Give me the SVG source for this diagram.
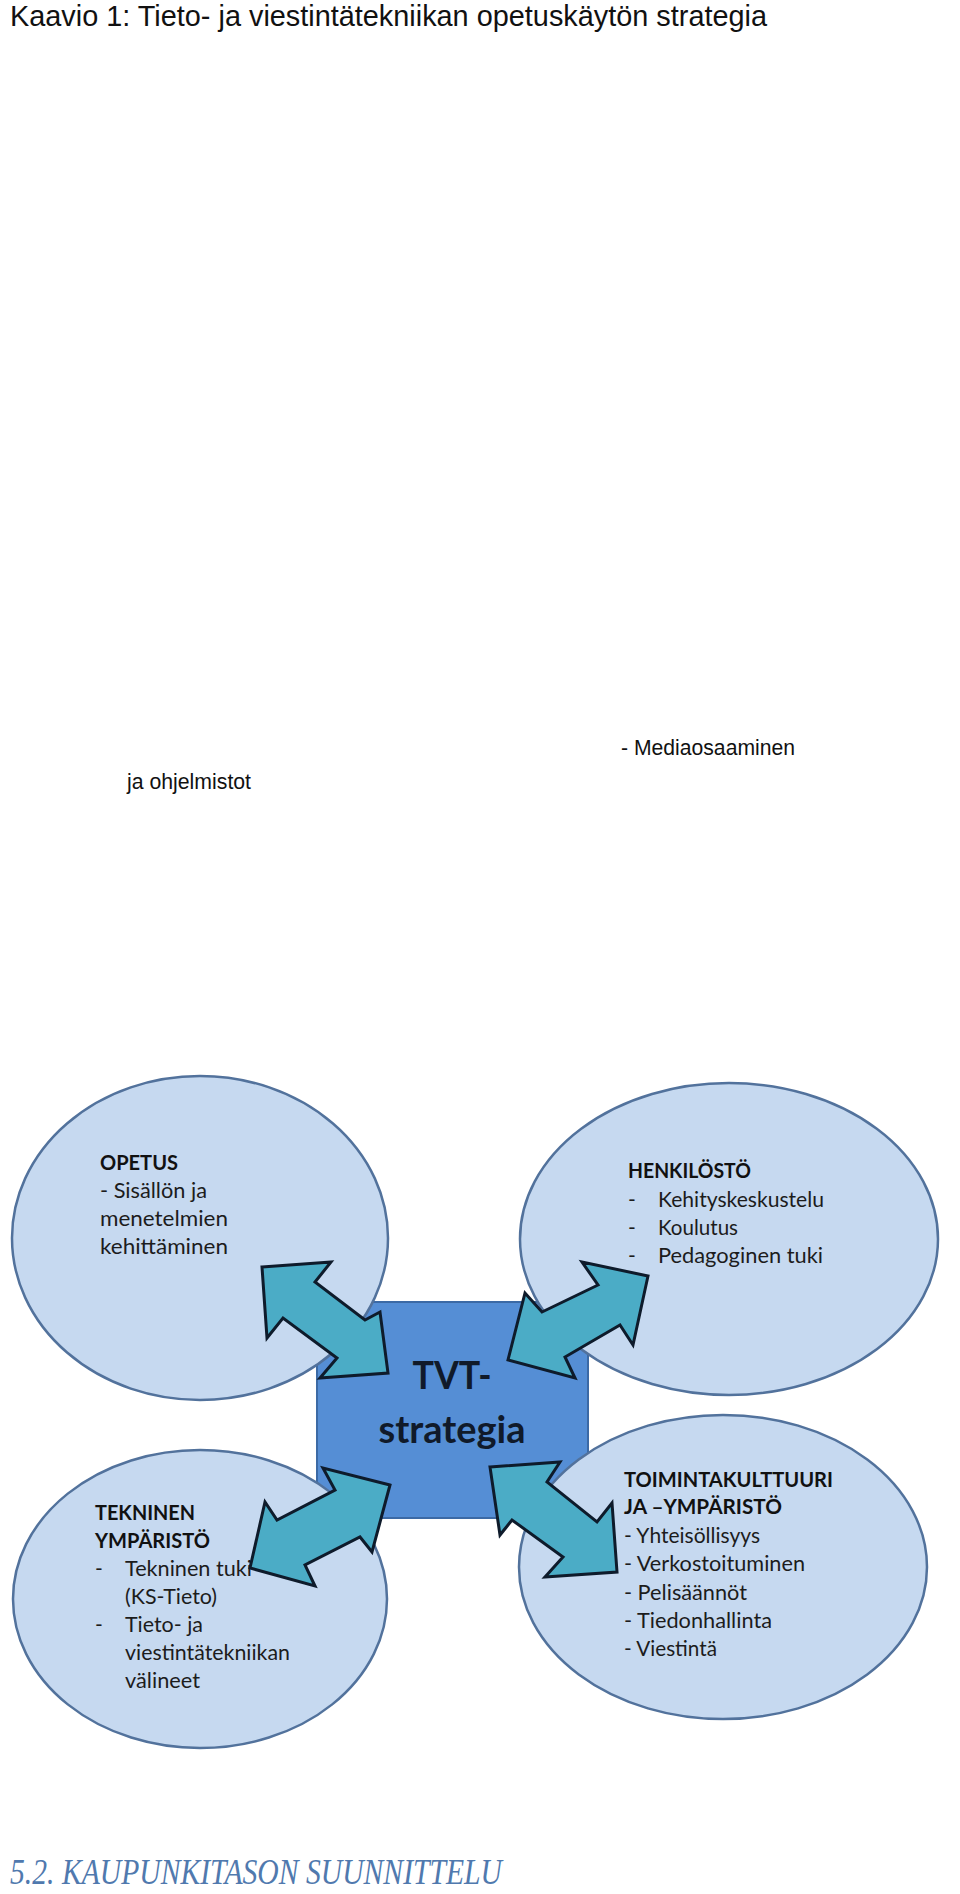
<svg xmlns="http://www.w3.org/2000/svg" width="960" height="1894" viewBox="0 0 960 1894">
<style>
.doc{font-family:"Liberation Sans",Arial,sans-serif;fill:#111;}
.oval{fill:#C6D9F0;stroke:#52729C;stroke-width:2.5;}
.box{fill:#558ED5;stroke:#3C6AA5;stroke-width:2;}
.arr{fill:#4BACC6;stroke:#0E1B2B;stroke-width:3;stroke-linejoin:miter;}
.h{font-family:Lato,"Open Sans",sans-serif;font-weight:bold;font-size:21px;fill:#111;}
.b{font-family:Lato,"Open Sans",sans-serif;font-size:21px;fill:#1c1c1c;}
.big{font-family:Lato,"Open Sans",sans-serif;font-weight:bold;font-size:38px;fill:#101a2a;}
.sec{font-family:"Liberation Serif","Times New Roman",serif;font-style:italic;font-size:36px;fill:#5079AE;}
</style>
<rect width="960" height="1894" fill="#FFFFFF"/>
<text class="doc" x="10" y="26" font-size="30" textLength="757" lengthAdjust="spacingAndGlyphs">Kaavio 1: Tieto- ja viestintätekniikan opetuskäytön strategia</text>
<text class="doc" x="621" y="755" font-size="22" textLength="174" lengthAdjust="spacingAndGlyphs">- Mediaosaaminen</text>
<text class="doc" x="127" y="789" font-size="22" textLength="124" lengthAdjust="spacingAndGlyphs">ja ohjelmistot</text>

<g id="node-tvt">
<rect class="box" x="317" y="1302" width="271" height="216"/>
<text class="big" x="452" y="1389" text-anchor="middle" textLength="79" lengthAdjust="spacingAndGlyphs">TVT-</text>
<text class="big" x="452" y="1443" text-anchor="middle" textLength="147" lengthAdjust="spacingAndGlyphs">strategia</text>
</g>

<g id="node-opetus">
<ellipse class="oval" cx="200" cy="1238" rx="188" ry="162"/>
<text class="h" x="100" y="1170" textLength="78" lengthAdjust="spacingAndGlyphs">OPETUS</text>
<text class="b" x="100" y="1198" textLength="107" lengthAdjust="spacingAndGlyphs">- Sisällön ja</text>
<text class="b" x="100" y="1226" textLength="128" lengthAdjust="spacingAndGlyphs">menetelmien</text>
<text class="b" x="100" y="1254" textLength="128" lengthAdjust="spacingAndGlyphs">kehittäminen</text>
</g>

<g id="node-henkilosto">
<ellipse class="oval" cx="729" cy="1239" rx="209" ry="156"/>
<text class="h" x="628" y="1178" textLength="123" lengthAdjust="spacingAndGlyphs">HENKILÖSTÖ</text>
<text class="b" x="628" y="1207">-</text>
<text class="b" x="658" y="1207" textLength="166" lengthAdjust="spacingAndGlyphs">Kehityskeskustelu</text>
<text class="b" x="628" y="1235">-</text>
<text class="b" x="658" y="1235" textLength="80" lengthAdjust="spacingAndGlyphs">Koulutus</text>
<text class="b" x="628" y="1263">-</text>
<text class="b" x="658" y="1263" textLength="165" lengthAdjust="spacingAndGlyphs">Pedagoginen tuki</text>
</g>

<g id="node-tekninen">
<ellipse class="oval" cx="200" cy="1599" rx="187" ry="149"/>
<text class="h" x="95" y="1520" textLength="100" lengthAdjust="spacingAndGlyphs">TEKNINEN</text>
<text class="h" x="95" y="1548" textLength="115" lengthAdjust="spacingAndGlyphs">YMPÄRISTÖ</text>
<text class="b" x="95" y="1576">-</text>
<text class="b" x="125" y="1576" textLength="127" lengthAdjust="spacingAndGlyphs">Tekninen tuki</text>
<text class="b" x="125" y="1604" textLength="92" lengthAdjust="spacingAndGlyphs">(KS-Tieto)</text>
<text class="b" x="95" y="1632">-</text>
<text class="b" x="125" y="1632" textLength="78" lengthAdjust="spacingAndGlyphs">Tieto- ja</text>
<text class="b" x="125" y="1660" textLength="165" lengthAdjust="spacingAndGlyphs">viestintätekniikan</text>
<text class="b" x="125" y="1688" textLength="75" lengthAdjust="spacingAndGlyphs">välineet</text>
</g>

<g id="node-toimintakulttuuri">
<ellipse class="oval" cx="723" cy="1567" rx="204" ry="152"/>
<text class="h" x="624" y="1487" textLength="209" lengthAdjust="spacingAndGlyphs">TOIMINTAKULTTUURI</text>
<text class="h" x="624" y="1514" textLength="158" lengthAdjust="spacingAndGlyphs">JA  –YMPÄRISTÖ</text>
<text class="b" x="624" y="1543" textLength="136" lengthAdjust="spacingAndGlyphs">- Yhteisöllisyys</text>
<text class="b" x="624" y="1571" textLength="181" lengthAdjust="spacingAndGlyphs">- Verkostoituminen</text>
<text class="b" x="624" y="1600" textLength="123" lengthAdjust="spacingAndGlyphs">- Pelisäännöt</text>
<text class="b" x="624" y="1628" textLength="148" lengthAdjust="spacingAndGlyphs">- Tiedonhallinta</text>
<text class="b" x="624" y="1656" textLength="93" lengthAdjust="spacingAndGlyphs">- Viestintä</text>
</g>

<g id="connectors">
<polygon class="arr" points="262,1267 331,1262 315,1282 365,1320 380,1312 388,1373 320,1378 337,1358 283,1318 267,1338"/>
<polygon class="arr" points="648,1276 582,1262 598,1285 542,1312 525,1293 508,1360 575,1378 565,1357 620,1325 633,1345"/>
<polygon class="arr" points="390,1485 323,1468 335,1490 277,1520 265,1502 250,1568 315,1586 305,1565 360,1537 372,1552"/>
<polygon class="arr" points="490,1467 560,1462 547,1482 597,1522 612,1503 617,1572 545,1577 563,1557 512,1520 500,1535"/>
</g>

<text class="sec" x="10" y="1884" textLength="492" lengthAdjust="spacingAndGlyphs">5.2. KAUPUNKITASON SUUNNITTELU</text>
</svg>
